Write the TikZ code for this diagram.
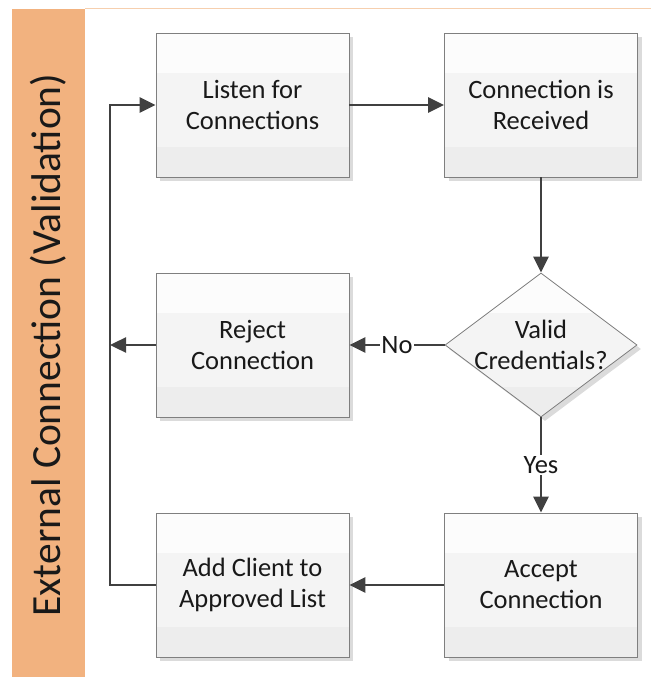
\documentclass[tikz,border=0pt]{standalone}
\usepackage{fontspec}
\setmainfont{Carlito}
\usetikzlibrary{arrows.meta,shapes.geometric,shadows}
\definecolor{band}{HTML}{F2B27F}
\definecolor{bandline}{HTML}{F6CFAE}
\definecolor{edge}{HTML}{7F7F7F}
\definecolor{linec}{HTML}{404040}
\definecolor{ftop}{HTML}{FCFCFC}
\definecolor{fmid}{HTML}{F4F4F4}
\definecolor{fbot}{HTML}{EDEDED}
\tikzset{
  bands/.style={path picture={
    \fill[ftop] (path picture bounding box.north west) rectangle ([yshift=-40pt]path picture bounding box.north east);
    \fill[fmid] ([yshift=-40pt]path picture bounding box.north west) rectangle ([yshift=-114pt]path picture bounding box.north east);
    \fill[fbot] ([yshift=-114pt]path picture bounding box.north west) rectangle (path picture bounding box.south east);
  }},
  shad/.style={drop shadow={shadow xshift=4pt, shadow yshift=-4pt, fill=black!14, opacity=1}},
  procbox/.style={rectangle, draw=edge, line width=0.8pt, minimum width=193pt, minimum height=144pt,
    inner sep=0pt, bands, shad, align=center, font=\fontsize{26.5}{31}\selectfont, text=black!90},
  decbox/.style={diamond, draw=edge, line width=0.8pt, minimum width=192pt, minimum height=144pt,
    inner sep=0pt, bands, shad},
  lbl/.style={align=center, font=\fontsize{26.5}{31}\selectfont, text=black!90},
  edgelbl/.style={fill=white, inner sep=1.5pt, font=\fontsize{26.5}{31}\selectfont, text=black!90},
  arr/.style={draw=linec, line width=2.4pt, -{Triangle[length=16pt,width=15pt]}},
  ln/.style={draw=linec, line width=2.4pt}
}
\begin{document}
\begin{tikzpicture}[x=1pt,y=-1pt]
\useasboundingbox (0,0) rectangle (651,677);
\fill[white] (0,0) rectangle (651,677);
\fill[band] (12,9) rectangle (85,677);
\draw[bandline, line width=1pt] (85,9) -- (651,9);
\node[rotate=90, font=\fontsize{41.5}{48}\selectfont, text=black!90] (title) at (48,345) {External Connection (Validation)};

\node[procbox] (listen) at (252.5,105) {Listen for\\Connections};
\node[procbox] (recv) at (541,105) {Connection is\\Received};
\node[procbox] (reject) at (252.5,345) {Reject\\Connection};
\node[decbox] (valid) at (541,345) {};
\node[lbl] (validtxt) at (valid.center) {Valid\\Credentials?};
\node[procbox] (add) at (252.5,585) {Add Client to\\Approved List};
\node[procbox] (accept) at (541,585) {Accept\\Connection};

\coordinate (loop) at (110,345);

\draw[arr] (listen.east) -- (recv.west);
\draw[arr] (recv.south) -- (valid.north);
\draw[arr] (valid.west) -- node[edgelbl] (no) {No} (reject.east);
\draw[arr] (valid.south) -- node[edgelbl, pos=0.5] (yes) {Yes} (accept.north);
\draw[arr] (accept.west) -- (add.east);
\draw[arr] (reject.west) -- (loop);
\draw[arr] (add.west) -- (add.west -| loop) |- (listen.west);
\end{tikzpicture}
\end{document}
